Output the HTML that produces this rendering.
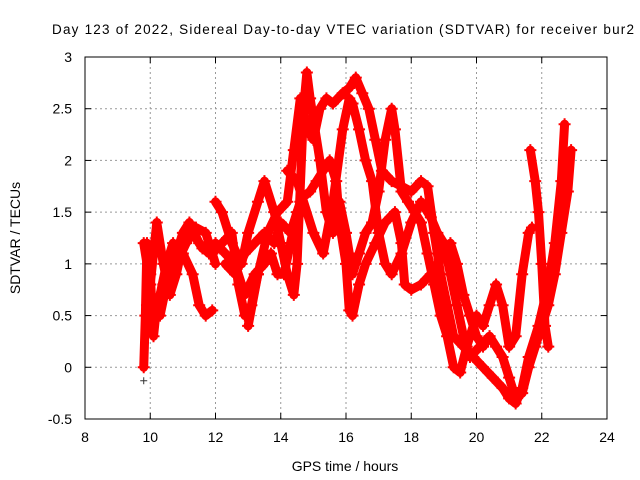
<!DOCTYPE html>
<html><head><meta charset="utf-8"><style>body{margin:0;background:#fff}svg{display:block;font-family:"Liberation Sans",sans-serif}</style></head>
<body>
<svg id="c" width="640" height="480">
<text x="343" y="34" text-anchor="middle" font-size="13.5" textLength="582">Day 123 of 2022, Sidereal Day-to-day VTEC variation (SDTVAR) for receiver bur2</text>
<text x="345" y="471" text-anchor="middle" font-size="14">GPS time / hours</text>
<text transform="translate(20,238) rotate(-90)" text-anchor="middle" font-size="14">SDTVAR / TECUs</text>
<g id="grid"></g>
<g id="marks"></g>
<rect x="85" y="57" width="522" height="362" fill="none" stroke="#000"/>
</svg>
<script>
const xTicks=[8,10,12,14,16,18,20,22,24];
const yTicks=[-0.5,0,0.5,1,1.5,2,2.5,3];
const yTickLabels=["-0.5","0","0.5","1","1.5","2","2.5","3"];
const trace1=[[9.8,0.0],[9.85,0.5],[9.9,1.2],[10.0,0.9],[10.1,0.3],[10.2,0.6],[10.4,0.8],[10.6,1.0],[10.8,1.1],[11.0,1.3],[11.2,1.4],[11.5,1.2],[11.8,1.1],[12.0,1.2],[12.3,1.1],[12.6,1.0],[12.9,0.7],[13.2,0.9],[13.5,1.0],[13.7,1.1],[13.9,0.9],[14.1,0.9],[14.3,1.2],[14.5,1.5],[14.7,1.65],[14.9,1.7],[15.1,1.8],[15.3,1.9],[15.5,2.0],[15.7,1.8],[15.8,1.4],[16.0,1.0],[16.1,0.55],[16.2,0.5],[16.4,0.8],[16.6,1.0],[16.9,1.2],[17.2,1.4],[17.5,1.5],[17.7,1.2],[17.8,0.8],[18.0,0.75],[18.3,0.8],[18.6,0.9],[18.8,1.0],[19.0,1.1],[19.2,1.2],[19.4,1.0],[19.6,0.7],[19.8,0.5],[20.0,0.3],[20.2,0.2],[20.4,0.3],[20.6,0.2],[20.8,0.1],[21.0,-0.1],[21.2,-0.3],[21.4,-0.25],[21.6,0.0],[21.8,0.2],[22.0,0.4],[22.2,0.6],[22.4,0.9],[22.6,1.3],[22.8,1.7],[22.9,2.1]];
const trace2=[[9.9,0.6],[10.1,0.5],[10.3,0.7],[10.5,1.0],[10.7,1.2],[11.0,1.1],[11.3,0.9],[11.5,0.6],[11.7,0.5],[11.9,0.55]];
const trace3=[[12.0,1.6],[12.2,1.5],[12.5,1.2],[12.8,1.0],[13.0,1.3],[13.3,1.6],[13.5,1.8],[13.8,1.5],[14.0,1.2],[14.2,0.9],[14.4,0.7],[14.5,1.0],[14.7,2.5],[14.8,2.85],[14.9,2.6],[15.0,2.4],[15.2,2.0],[15.4,1.5],[15.6,1.3],[15.8,1.6],[16.0,1.3],[16.2,0.9],[16.4,1.1],[16.6,1.3],[16.8,1.4],[17.0,1.7],[17.2,2.2],[17.4,2.5],[17.5,2.3],[17.7,1.7],[17.9,1.6],[18.1,1.5],[18.3,1.4],[18.5,1.1],[18.7,0.8],[18.9,0.5],[19.1,0.3],[19.3,0.0],[19.5,-0.05],[19.7,0.2],[20.0,0.5],[20.2,0.4],[20.4,0.6],[20.6,0.8],[20.8,0.6],[21.0,0.2],[21.2,0.3],[21.4,0.9],[21.6,1.3],[21.7,1.35]];
const trace4=[[13.0,0.4],[13.3,0.9],[13.6,1.3],[13.9,1.5],[14.2,1.6],[14.4,2.1],[14.6,2.6],[14.8,2.3],[15.0,2.2],[15.2,2.5],[15.4,2.6],[15.6,2.55],[15.9,2.65],[16.1,2.7],[16.3,2.8],[16.5,2.65],[16.7,2.5],[16.9,2.2],[17.1,1.9],[17.4,1.8],[17.7,1.75],[18.0,1.7],[18.3,1.8],[18.5,1.75],[18.7,1.3],[18.9,0.9],[19.1,0.6],[19.3,0.3],[19.6,0.2],[19.9,0.1],[20.2,0.0],[20.5,-0.1],[20.8,-0.2],[21.0,-0.3],[21.2,-0.35],[21.4,-0.2],[21.6,0.1],[21.9,0.4],[22.2,0.8],[22.4,1.2],[22.6,1.8],[22.7,2.35]];
const trace5=[[14.2,1.9],[14.5,1.8],[15.0,1.3],[15.3,1.1],[15.6,1.6],[15.9,2.3],[16.1,2.6],[16.2,2.55],[16.4,2.3],[16.6,2.0],[16.8,1.8],[17.0,1.3],[17.2,1.0],[17.4,0.9],[17.7,1.1],[18.0,1.4],[18.3,1.6],[18.6,1.45],[18.8,1.3],[19.0,1.2],[19.2,0.9],[19.4,0.6],[19.6,0.3],[19.8,0.1],[20.1,0.2],[20.4,0.3]];
const trace6=[[21.65,2.1],[21.8,1.8],[21.9,1.5],[22.0,1.0],[22.1,0.4],[22.2,0.2]];
const trace7=[[9.8,1.2],[10.0,0.8],[10.2,1.4],[10.4,1.0],[10.6,0.7],[10.8,0.9],[11.0,1.2],[11.3,1.3],[11.6,1.15],[11.9,1.1],[12.2,1.2],[12.5,1.3],[12.7,0.8],[12.9,0.5],[13.1,0.6],[13.3,0.9]];
const trace8=[[12.3,1.0],[12.6,0.9],[12.9,1.1],[13.2,1.2],[13.5,1.3],[13.8,1.2],[14.0,1.4],[14.3,1.3],[14.6,1.6]];
const trace9=[[10.0,0.5],[10.3,0.5],[10.5,0.8],[10.8,1.0],[11.1,1.2],[11.4,1.35],[11.7,1.3],[12.0,1.0]];
const blackPts=[[9.8,-0.13]];
const traces=[trace1,trace2,trace3,trace4,trace5,trace6,trace7,trace8,trace9];
const NS='http://www.w3.org/2000/svg';
const X0=85,X1=607,Y0=419,Y1=57;
function sx(v){return X0+(v-8)/16*(X1-X0);}
function sy(v){return Y0-(v+0.5)/3.5*(Y0-Y1);}
function mk(t,a,p){const e=document.createElementNS(NS,t);for(const k in a)e.setAttribute(k,a[k]);p.appendChild(e);return e;}
const g=document.getElementById('grid'),m=document.getElementById('marks');
xTicks.forEach((t,i)=>{const x=sx(t);
 if(i>0&&i<xTicks.length-1){const l=mk('line',{x1:x,x2:x,y1:Y1,y2:Y0,stroke:'#999','stroke-dasharray':'2,3'},g);}
 mk('line',{x1:x,x2:x,y1:Y0,y2:Y0-6,stroke:'#000'},g);mk('line',{x1:x,x2:x,y1:Y1,y2:Y1+6,stroke:'#000'},g);
 const tx=mk('text',{x:x,y:442,'text-anchor':'middle','font-size':14},g);tx.textContent=t;
 });
yTicks.forEach((t,i)=>{const y=sy(t);
 if(i>0&&i<yTicks.length-1){const l=mk('line',{x1:X0,x2:X1,y1:y,y2:y,stroke:'#999','stroke-dasharray':'2,3'},g);}
 mk('line',{x1:X0,x2:X0+6,y1:y,y2:y,stroke:'#000'},g);mk('line',{x1:X1,x2:X1-6,y1:y,y2:y,stroke:'#000'},g);
 const tx=mk('text',{x:72,y:y+5,'text-anchor':'end','font-size':14},g);tx.textContent=yTickLabels[i];
 });
function plus(x,y,c,p,s,w){return mk('path',{d:`M${x-s},${y}H${x+s}M${x},${y-s}V${y+s}`,stroke:c,'stroke-width':w},p);}
traces.forEach((tr,i)=>{
 const pl=mk('polyline',{points:tr.map(d=>sx(d[0])+','+sy(d[1])).join(' '),fill:'none',stroke:'#f00','stroke-width':9,'stroke-linejoin':'round','stroke-linecap':'round'},m);
 
 
 tr.forEach(d=>{const p=plus(sx(d[0]),sy(d[1]),'#f00',m,6,2);
  
  });
});
blackPts.forEach(d=>{const p=plus(sx(d[0]),sy(d[1]),'#333',m,3.5,1);
 
 });
</script>
</body></html>
